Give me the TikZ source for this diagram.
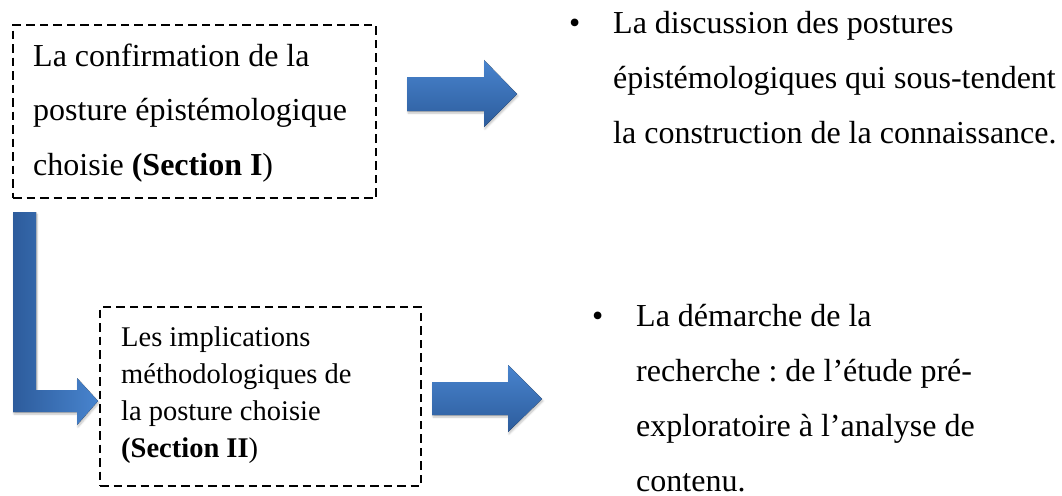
\documentclass[tikz,border=0pt]{standalone}
\usepackage{fontspec}
\setmainfont{Liberation Serif}
\usetikzlibrary{positioning, shadows.blur}
\definecolor{arrowlight}{RGB}{72,132,206}
\definecolor{arrowdark}{RGB}{45,92,156}
\frenchspacing

\begin{document}
\begin{tikzpicture}[
    x=1pt, y=-1pt,
    sectbox/.style={draw, line width=2.3pt, dash pattern=on 8.5pt off 5pt,
                    inner sep=0pt, anchor=north west},
    sectext/.style={anchor=base west, inner sep=0pt, align=left},
    bullettext/.style={anchor=base west, inner sep=0pt, align=left,
                       font=\fontsize{32}{55}\selectfont},
    blockarrow/.style={top color=arrowlight, bottom color=arrowdark,
                       blur shadow={shadow xshift=1pt, shadow yshift=-2pt,
                                    shadow opacity=25, shadow blur steps=6}},
    barrow/.style={left color=arrowdark, right color=arrowlight,
                   blur shadow={shadow xshift=1pt, shadow yshift=-2pt,
                                shadow opacity=25, shadow blur steps=6}}
]
\useasboundingbox (0,0) rectangle (1062,495);

%% Section I box (text placed by its last baseline)
\node[sectbox, minimum width=363pt, minimum height=173pt] (sec1) at (12,24) {};
\node[sectext, font=\fontsize{32}{54.5}\selectfont] (sec1text) at (33,175) {%
    La confirmation de la\\
    posture épistémologique\\
    choisie \textbf{(Section I})};

%% Section II box
\node[sectbox, minimum width=321pt, minimum height=179pt] (sec2) at (99,306) {};
\node[sectext, font=\fontsize{28.5}{36.7}\selectfont] (sec2text) at (121,457) {%
    Les implications\\
    méthodologiques de\\
    la posture choisie\\
    \textbf{(Section II})};

%% Bullet texts
\node[bullettext] (disc) at (613,143) {%
    \llap{\textbullet\hspace{33pt}}La discussion des postures\\
    épistémologiques qui sous-tendent\\
    la construction de la connaissance.};

\node[bullettext] (demarche) at (636,491) {%
    \llap{\textbullet\hspace{33pt}}La démarche de la\\
    recherche : de l’étude pré-\\
    exploratoire à l’analyse de\\
    contenu.};

%% Block arrows: sections -> bullets
\fill[blockarrow] (407,77) -- (484,77) -- (484,60) -- (517,94)
    -- (484,127) -- (484,111) -- (407,111) -- cycle;
\fill[blockarrow] (432,382) -- (508,382) -- (508,365) -- (542,399)
    -- (508,432) -- (508,415) -- (432,415) -- cycle;

%% Bent arrow: Section I -> Section II
\fill[barrow] (13,212) -- (36,212) -- (36,390) -- (77,390) -- (77,378)
    -- (98,401) -- (77,425) -- (77,412) -- (13,412) -- cycle;

\end{tikzpicture}
\end{document}
